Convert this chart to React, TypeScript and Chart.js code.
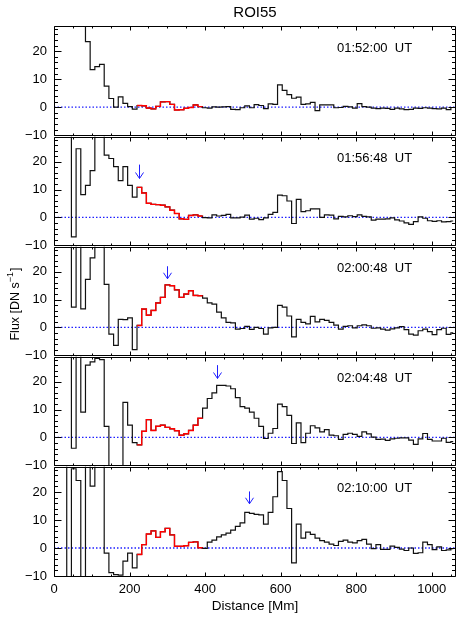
import React, { useEffect, useRef } from "react";
import { Chart, registerables } from "chart.js";

Chart.register(...registerables);

// ---------------- data ----------------
const distanceMm = [
  15.1, 27.5, 39.9, 52.3, 64.7, 77.1, 89.5, 101.9, 114.3, 126.7,
  139.1, 151.5, 163.9, 176.3, 188.7, 201.1, 213.5, 225.9, 238.3, 250.7,
  263.1, 275.5, 287.9, 300.3, 312.7, 325.1, 337.5, 349.9, 362.3, 374.7,
  387.1, 399.5, 411.9, 424.3, 436.7, 449.1, 461.5, 473.9, 486.3, 498.7,
  511.1, 523.5, 535.9, 548.3, 560.7, 573.1, 585.5, 597.9, 610.3, 622.7,
  635.1, 647.5, 659.9, 672.3, 684.7, 697.1, 709.5, 721.9, 734.3, 746.7,
  759.1, 771.5, 783.9, 796.3, 808.7, 821.1, 833.5, 845.9, 858.3, 870.7,
  883.1, 895.5, 907.9, 920.3, 932.7, 945.1, 957.5, 969.9, 982.3, 994.7,
  1007.1, 1019.5, 1031.9, 1044.3, 1056.7,
];

const flux0152 = [
  45, 60, 55, 50, 42, 35, 23.4, 13.4, 14.5, 15.3,
  7.5, 3.1, 0.0, 3.7, 1.4, 0.2, -0.7, 0.6, 0.5, -0.3,
  -0.6, 0.3, 1.9, 2.0, 1.0, -1.0, -0.9, -0.4, -0.1, 0.8,
  0.2, -0.2, -0.3, 0.1, 0.0, 0.1, 0.2, -0.8, -0.9, -0.2,
  0.5, -0.2, 0.9, 0.6, -0.5, 1.2, 1.0, 8.0, 6.0, 4.5,
  3.2, 3.6, 1.0, 1.2, 1.7, -1.2, 0.8, 0.8, 0.8, -0.2,
  -0.1, 0.3, 0.1, -0.3, 1.3, 0.2, 0.0, -0.3, -0.5, -0.3,
  -0.4, -0.8, -0.3, -0.6, -0.9, -0.8, -0.3, -0.4, -0.2, -0.3,
  -0.5, -0.6, -0.3, -0.9, -0.1,
];

const flux0156 = [
  45, 50, 40, -7.0, 24.7, 8.2, 11.5, 16.8, 40, 35,
  22.4, 21.2, 18.3, 13.2, 18.3, 11.5, 7.3, 10.8, 8.8, 5.1,
  4.7, 4.6, 4.4, 3.8, 2.6, 1.4, -0.5, -0.7, 0.7, 0.9,
  0.5, -0.1, -0.2, 0.9, 0.5, 0.7, 1.1, -0.2, -0.2, 0.1,
  0.8, -0.6, -0.3, -0.8, -0.2, 1.1, 1.8, 8.0, 7.8, 5.9,
  -2.2, 6.5, 2.1, 2.4, 3.1, 3.1, 0.0, 0.9, 0.8, -0.5,
  0.4, 0.2, 0.6, 0.3, 0.9, 0.4, 0.2, -1.0, -0.6, -0.6,
  -0.5, -0.2, -0.9, -1.3, -2.0, -2.5, -1.5, 0.2, -0.3, -1.2,
  -1.4, -1.2, -1.6, -1.5, -1.3,
];

const flux0200 = [
  45, 50, 40, 7.3, 40, 6.7, 17.3, 25.0, 40, 35,
  15.5, -2.4, -6.5, 2.9, 2.8, 3.4, -8.0, 0.7, 6.6, 4.4,
  6.1, 8.8, 10.8, 15.3, 15.0, 13.5, 10.8, 12.0, 13.2, 11.5,
  11.4, 10.5, 8.8, 8.4, 5.5, 3.4, 1.8, 1.6, -0.6, -0.4,
  0.4, -0.7, 0.0, -0.4, -2.4, -0.2, 0.0, 7.9, 7.3, 4.1,
  -3.4, 2.9, 1.8, 1.3, 4.0, 2.0, 2.9, 2.5, 1.8, 0.8,
  -0.6, 0.4, 0.6, -0.2, 0.6, 0.9, 0.6, -0.3, -0.2, -0.6,
  -1.0, -0.5, -0.2, 0.3, -0.8, -2.4, -2.8, -1.2, -0.6, -1.5,
  -2.6, -0.8, -0.3, -2.5, -2.0,
];

const flux0204 = [
  45, 50, 40, -3.9, 40, 9.1, 26.0, 27.2, 28.4, 28.0,
  4.0, -15, -16, -15, 12.6, 4.4, -1.9, -2.7, 2.2, 6.4,
  2.5, 4.0, 4.4, 3.6, 3.1, 2.4, 0.8, 1.3, 2.5, 4.4,
  6.9, 10.5, 14.0, 16.0, 18.7, 18.7, 18.5, 17.5, 14.3, 11.1,
  10.5, 9.1, 6.9, 4.0, -0.4, 1.5, 3.2, 12.0, 11.1, 7.9,
  -2.2, 5.2, -1.9, 1.5, 4.2, 3.4, 2.0, 2.8, 0.8, 0.6,
  -0.7, 1.1, 1.5, 1.1, 0.4, 2.0, 1.3, 0.1, -0.7, -0.6,
  -1.1, -0.5, -0.3, -0.2, -0.2, -1.0, -2.5, -0.5, 1.4, -0.7,
  -1.3, -1.3, -0.3, -1.8, -1.5,
];

const flux0210 = [
  45, 50, -15, 28.3, 24.1, -15, 40, 22.1, 40, 35,
  -1.8, -8.8, -9.5, -9.7, -4.7, -1.8, -7.1, -2.3, 1.2, 5.0,
  6.1, 3.8, 5.8, 7.0, 4.7, 0.6, 0.6, 0.8, 2.0, 2.2,
  0.1, -0.1, 2.1, 2.8, 4.0, 4.7, 5.3, 6.4, 7.7, 9.0,
  12.7, 12.4, 12.0, 11.8, 8.5, 12.7, 18.3, 27.3, 24.1, 14.1,
  -5.3, 8.5, 3.5, 5.7, 4.9, 3.5, 2.6, 2.1, 1.4, 0.9,
  2.4, 2.8, 2.1, 1.8, 2.6, 3.1, 1.4, -0.2, 1.2, -0.5,
  -0.5, 0.7, 0.2, -0.4, -0.9, 0.0, -1.9, -1.7, 2.1, 1.2,
  -0.6, 0.4, -0.9, -0.7, -0.2,
];

const fluxSeries = [flux0152, flux0156, flux0200, flux0204, flux0210];
const timeLabels = ["01:52:00  UT", "01:56:48  UT", "02:00:48  UT", "02:04:48  UT", "02:10:00  UT"];
const redFromIndex = [17, 17, 17, 17, 17];
const redToIndex = [30, 30, 30, 30, 30];
const arrowDistance: (number | null)[] = [null, 224, 300, 431, 515];
const arrowTailFlux: (number | null)[] = [null, 19, 22, 26, 20.2];
const arrowTipFlux: (number | null)[] = [null, 14, 17.5, 21.2, 15.8];
const xMajorTicks = [0, 200, 400, 600, 800, 1000];
const yMajorTicks = [-10, 0, 10, 20];
const X_MIN = 0;
const X_MAX = 1064;
const Y_MIN = -10;
const Y_MAX = 29;
const X_MINOR_STEP = 50;
const Y_MINOR_STEP = 2;

// ---------------- layout ----------------
const W = 463;
const H = 618;
const FIRST_TOP = 26;
const PANEL_H = 110;
const PLOT_LEFT = 54;
const PLOT_RIGHT = 456;
const FONT = '"Liberation Sans", Arial, Helvetica, sans-serif';

const minusFmt = (v: number) => (v < 0 ? "\u2212" + Math.abs(v) : String(v));

function Panel({ index }: { index: number }) {
  const ref = useRef<HTMLCanvasElement>(null);
  const chartTop = FIRST_TOP + PANEL_H * index;
  const canvasTop = index === 0 ? 0 : chartTop - 14;
  const padTop = chartTop - canvasTop;
  const isLast = index === 4;
  const xAxisH = 40;
  const height = isLast ? H - canvasTop : padTop + PANEL_H + 14;
  const padBottom = isLast ? H - (chartTop + PANEL_H) - xAxisH : 14;

  useEffect(() => {
    const values = fluxSeries[index];
    const points = distanceMm.map((d, k) => ({ x: d, y: values[k] }));
    const a = redFromIndex[index];
    const b = redToIndex[index];
    const redPoints = [
      { x: (distanceMm[a - 1] + distanceMm[a]) / 2, y: values[a] },
      ...distanceMm.slice(a, b + 1).map((d, k) => ({ x: d, y: values[a + k] })),
      { x: (distanceMm[b] + distanceMm[b + 1]) / 2, y: values[b] },
    ];

    const framePlugin = {
      id: "frame" + index,
      afterDraw(chart: any) {
        const { ctx, chartArea: area, scales } = chart;
        const xs = scales.x;
        const ys = scales.y;
        ctx.save();
        const L = Math.round(area.left) + 0.5;
        const R = Math.round(area.right) - 0.5;
        const T = Math.round(area.top) + 0.5;
        const B = Math.round(area.bottom) + 0.5;
        ctx.strokeStyle = "#000";
        ctx.lineWidth = 1;
        ctx.beginPath();
        ctx.rect(L, T, R - L, B - T);
        ctx.stroke();
        ctx.beginPath();
        for (let v = X_MIN; v <= X_MAX; v += X_MINOR_STEP) {
          const px = Math.round(xs.getPixelForValue(v)) + 0.5;
          const len = xMajorTicks.includes(v) ? 4 : 2;
          ctx.moveTo(px, B);
          ctx.lineTo(px, B - len);
          ctx.moveTo(px, T);
          ctx.lineTo(px, T + len);
        }
        for (let v = Y_MIN; v <= Y_MAX; v += Y_MINOR_STEP) {
          const py = Math.round(ys.getPixelForValue(v)) + 0.5;
          const len = yMajorTicks.includes(v) ? 7 : 3.5;
          ctx.moveTo(L, py);
          ctx.lineTo(L + len, py);
          ctx.moveTo(R, py);
          ctx.lineTo(R - len, py);
        }
        ctx.stroke();

        const ax = arrowDistance[index];
        const at = arrowTailFlux[index];
        const ap = arrowTipFlux[index];
        if (ax !== null && at !== null && ap !== null) {
          const px = Math.round(xs.getPixelForValue(ax)) + 0.5;
          const y0 = ys.getPixelForValue(at);
          const y1 = ys.getPixelForValue(ap);
          ctx.strokeStyle = "#1f1fff";
          ctx.lineWidth = 1;
          ctx.beginPath();
          ctx.moveTo(px, y0);
          ctx.lineTo(px, y1);
          ctx.moveTo(px - 4, y1 - 6);
          ctx.lineTo(px, y1);
          ctx.lineTo(px + 4, y1 - 6);
          ctx.stroke();
        }

        ctx.fillStyle = "#000";
        ctx.font = "13px " + FONT;
        ctx.textBaseline = "middle";
        ctx.textAlign = "left";
        ctx.fillText(timeLabels[index], PLOT_LEFT + 283, area.top + 22);

        if (index === 0) {
          ctx.font = "15px " + FONT;
          ctx.textAlign = "center";
          ctx.fillText("ROI55", (PLOT_LEFT + PLOT_RIGHT) / 2, 13);
        }

        if (index === 2) {
          const cy = 304 - canvasTop;
          ctx.translate(14, cy);
          ctx.rotate(-Math.PI / 2);
          const main = "Flux [DN s";
          const sup = "\u22121";
          const tail = "]";
          ctx.font = "12.5px " + FONT;
          const wMain = ctx.measureText(main).width;
          const wTail = ctx.measureText(tail).width;
          ctx.font = "9px " + FONT;
          const wSup = ctx.measureText(sup).width;
          const total = wMain + wSup + wTail + 1;
          let x0 = -total / 2;
          ctx.textBaseline = "alphabetic";
          ctx.textAlign = "left";
          ctx.font = "12.5px " + FONT;
          ctx.fillText(main, x0, 4.5);
          x0 += wMain;
          ctx.font = "9px " + FONT;
          ctx.fillText(sup, x0, -1);
          x0 += wSup + 1;
          ctx.font = "12.5px " + FONT;
          ctx.fillText(tail, x0, 4.5);
        }
        ctx.restore();
      },
    };

    const chart = new Chart(ref.current as HTMLCanvasElement, {
      type: "line",
      data: {
        datasets: [
          {
            data: [
              { x: X_MIN, y: 0 },
              { x: X_MAX, y: 0 },
            ],
            borderColor: "#1f1fff",
            borderWidth: 1.3,
            borderDash: [1.5, 2],
            pointRadius: 0,
            fill: false,
            order: 3,
          },
          {
            data: points,
            borderColor: "#111",
            borderWidth: 1.2,
            stepped: "middle",
            pointRadius: 0,
            fill: false,
            order: 2,
          },
          {
            data: redPoints,
            borderColor: "#ff0000",
            borderWidth: 1.4,
            stepped: "middle",
            pointRadius: 0,
            fill: false,
            order: 1,
          },
        ],
      },
      options: {
        animation: false,
        responsive: false,
        devicePixelRatio: 1,
        events: [],
        layout: {
          padding: { left: 0, right: W - PLOT_RIGHT, top: padTop, bottom: padBottom },
        },
        plugins: {
          legend: { display: false },
          tooltip: { enabled: false },
          title: { display: false },
        },
        scales: {
          x: {
            type: "linear",
            min: X_MIN,
            max: X_MAX,
            display: isLast,
            grid: { display: false, drawTicks: false },
            border: { display: false },
            afterBuildTicks: (s: any) => {
              s.ticks = xMajorTicks.map((v) => ({ value: v }));
            },
            afterFit: (s: any) => {
              s.height = isLast ? xAxisH : 0;
            },
            ticks: {
              color: "#000",
              font: { family: FONT, size: 13 },
              padding: 6,
              maxRotation: 0,
              autoSkip: false,
              callback: (v: any) => String(v),
            },
            title: {
              display: isLast,
              text: "Distance [Mm]",
              color: "#000",
              font: { family: FONT, size: 13.5 },
              padding: { top: 0, bottom: 2 },
            },
          },
          y: {
            type: "linear",
            min: Y_MIN,
            max: Y_MAX,
            grid: { display: false, drawTicks: false },
            border: { display: false },
            afterBuildTicks: (s: any) => {
              s.ticks = yMajorTicks.map((v) => ({ value: v }));
            },
            afterFit: (s: any) => {
              s.width = PLOT_LEFT;
            },
            ticks: {
              color: "#000",
              font: { family: FONT, size: 13 },
              padding: 7,
              autoSkip: false,
              callback: (v: any) => minusFmt(Number(v)),
            },
          },
        },
      } as any,
      plugins: [framePlugin],
    });
    return () => chart.destroy();
  }, [index]);

  return (
    <canvas
      ref={ref}
      width={W}
      height={height}
      style={{ position: "absolute", left: 0, top: canvasTop, display: "block" }}
    />
  );
}

export default function App() {
  return (
    <div
      style={{
        position: "absolute",
        left: 0,
        top: 0,
        width: W,
        height: H,
        background: "#fff",
        overflow: "hidden",
      }}
    >
      {[0, 1, 2, 3, 4].map((i) => (
        <Panel key={i} index={i} />
      ))}
    </div>
  );
}
